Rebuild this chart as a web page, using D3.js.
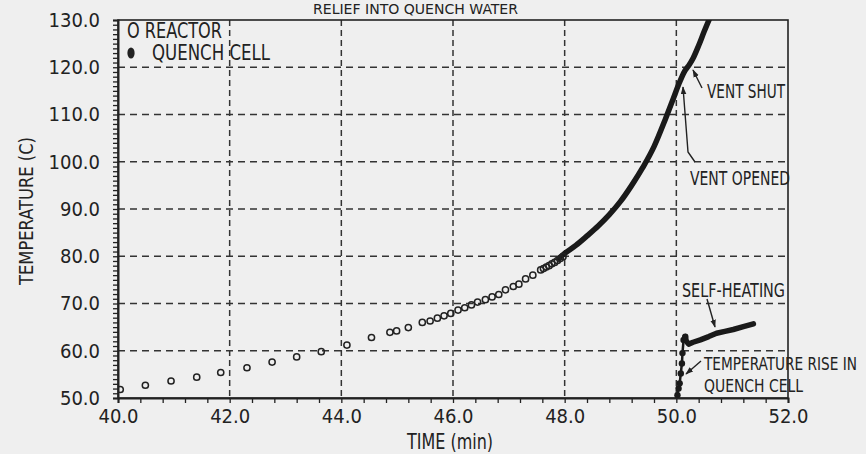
<!DOCTYPE html>
<html><head><meta charset="utf-8">
<script src="https://cdn.jsdelivr.net/npm/d3@7"></script>
<style>
body{margin:0;background:#efefef;}
svg{display:block;}
text{font-family:"Liberation Sans Narrow","Arial Narrow","DejaVu Sans Condensed",sans-serif;fill:#222;}
</style></head><body>
<svg id="c" width="866" height="454"></svg>
<script>
// ---- data ----
const xTicks = [40, 42, 44, 46, 48, 50, 52];
const yTicks = [50, 60, 70, 80, 90, 100, 110, 120, 130];
const title = "RELIEF INTO QUENCH WATER";
const xLabel = "TIME (min)";
const yLabel = "TEMPERATURE (C)";
const legendLabels = ["O REACTOR", "QUENCH CELL"];

// Reactor (open circles)
const reactorTime = [40.04,40.49,40.95,41.41,41.84,42.31,42.76,43.20,43.64,44.10,44.54,44.87,44.99,45.20,45.45,45.59,45.72,45.84,45.96,46.09,46.21,46.33,46.44,46.58,46.70,46.82,46.94,47.08,47.18,47.30,47.43,47.57,47.62,47.67,47.72,47.77,47.82,47.87,47.92,47.97];
const reactorTemp = [51.8,52.7,53.6,54.4,55.4,56.4,57.6,58.7,59.8,61.2,62.8,63.9,64.2,64.9,66.0,66.3,66.9,67.4,67.9,68.6,69.1,69.7,70.3,70.8,71.4,71.9,72.9,73.6,74.1,75.2,76.0,77.1,77.4,77.7,78.0,78.4,78.7,79.1,79.5,79.9];
// Reactor dense recording (merged into a thick trace)
const reactorCurveTime = [47.90,48.00,48.20,48.40,48.60,48.80,49.00,49.20,49.40,49.60,49.80,49.95,50.05,50.15,50.22,50.30,50.40,50.50,50.62];
const reactorCurveTemp = [79.6,80.6,82.3,84.3,86.4,88.8,91.6,95.0,98.8,103.2,108.9,113.5,116.6,119.2,120.3,121.9,124.6,127.6,131.0];
// Quench cell (filled dots)
const quenchRiseTime = [50.02,50.04,50.06,50.08,50.10,50.11,50.13,50.16];
const quenchRiseTemp = [50.6,52.0,53.1,55.2,57.3,59.5,62.3,63.0];
const quenchHeatTime = [50.16,50.18,50.22,50.30,50.43,50.58,50.72,50.87,51.02,51.20,51.38];
const quenchHeatTemp = [63.0,62.0,61.4,61.8,62.3,63.0,63.7,64.1,64.5,65.1,65.7];

// ---- layout ----
const W = 866, H = 454;
const m = {left:118, right:78, top:20, bottom:56};
const svg = d3.select("#c");
const ink = "#222";
const x = d3.scaleLinear().domain([40,52]).range([m.left, W-m.right]);
const y = d3.scaleLinear().domain([50,130]).range([H-m.bottom, m.top]);

svg.append("defs").append("marker")
  .attr("id","ah").attr("viewBox","0 -4 10 8").attr("refX",9).attr("refY",0)
  .attr("markerWidth",8).attr("markerHeight",7).attr("markerUnits","userSpaceOnUse").attr("orient","auto")
  .append("path").attr("d","M0,-3.5L10,0L0,3.5Z").attr("fill",ink);
svg.append("clipPath").attr("id","plot").append("rect")
  .attr("x",m.left).attr("y",m.top).attr("width",W-m.left-m.right).attr("height",H-m.top-m.bottom);

// grid
const g = svg.append("g");
g.selectAll(".hg").data(yTicks.slice(1,-1)).join("line")
  .attr("x1",m.left).attr("x2",W-m.right).attr("y1",d=>y(d)).attr("y2",d=>y(d))
  .attr("stroke","#333").attr("stroke-width",1.5).attr("stroke-dasharray","7,5");
g.selectAll(".vg").data(xTicks.slice(1,-1)).join("line")
  .attr("y1",m.top).attr("y2",H-m.bottom).attr("x1",d=>x(d)).attr("x2",d=>x(d))
  .attr("stroke","#333").attr("stroke-width",1.5).attr("stroke-dasharray","6,4");

// frame
svg.append("rect").attr("x",m.left).attr("y",m.top).attr("width",W-m.left-m.right).attr("height",H-m.top-m.bottom)
  .attr("fill","none").attr("stroke",ink).attr("stroke-width",1.6);

// axes: minor ticks
const minorX = d3.range(40,52.001,0.4);
const minorY = d3.range(50,130.001,1);
const ax = svg.append("g").attr("transform",`translate(0,${H-m.bottom})`)
  .call(d3.axisBottom(x).tickValues(minorX).tickSize(5).tickFormat(""));
const ay = svg.append("g").attr("transform",`translate(${m.left},0)`)
  .call(d3.axisLeft(y).tickValues(minorY).tickSize(5).tickFormat(""));
[ax,ay].forEach(a=>{a.select(".domain").attr("stroke",ink).attr("stroke-width",2);a.selectAll("line").attr("stroke",ink).attr("stroke-width",1.3);});
// major labels
const lx = svg.append("g").attr("transform",`translate(0,${H-m.bottom})`)
  .call(d3.axisBottom(x).tickValues(xTicks).tickSize(0).tickPadding(11).tickFormat(d3.format(".1f")));
const ly = svg.append("g").attr("transform",`translate(${m.left},0)`)
  .call(d3.axisLeft(y).tickValues(yTicks).tickSize(0).tickPadding(18).tickFormat(d3.format(".1f")));
[lx,ly].forEach(a=>{a.select(".domain").remove();a.selectAll("text").attr("font-size",20).attr("fill",ink).attr("font-family",null);});

// text helper
function label(t,px,py,len,fs,anchor){
  const e = svg.append("text").attr("x",px).attr("y",py).attr("font-size",fs).text(t);
  if(anchor) e.attr("text-anchor",anchor);
  if(len) e.attr("textLength",len).attr("lengthAdjust","spacingAndGlyphs");
  return e;
}
label(title,313,14,205,14);
label(xLabel,407,449,86,21);
svg.append("text").attr("transform","translate(33,211) rotate(-90)").attr("text-anchor","middle")
  .attr("font-size",20).attr("textLength",148).attr("lengthAdjust","spacingAndGlyphs").text(yLabel);

// legend
label(legendLabels[0],127,38,95,21);
svg.append("ellipse").attr("cx",131).attr("cy",53).attr("rx",3.6).attr("ry",5.5).attr("fill",ink);
label(legendLabels[1],152,60,118,21);

// data
const pc = svg.append("g").attr("clip-path","url(#plot)");
const line = d3.line().x(d=>x(d[0])).y(d=>y(d[1])).curve(d3.curveMonotoneX);
pc.append("path").datum(d3.zip(reactorCurveTime,reactorCurveTemp)).attr("d",line)
  .attr("fill","none").attr("stroke","#1a1a1a").attr("stroke-width",5.5).attr("stroke-linecap","round");
pc.selectAll(".rc").data(d3.zip(reactorTime,reactorTemp)).join("circle")
  .attr("cx",d=>x(d[0])).attr("cy",d=>y(d[1])).attr("r",3.1)
  .attr("fill","none").attr("stroke","#222").attr("stroke-width",1.5);

const lineL = d3.line().x(d=>x(d[0])).y(d=>y(d[1]));
pc.append("path").datum(d3.zip(quenchRiseTime,quenchRiseTemp)).attr("d",lineL)
  .attr("fill","none").attr("stroke","#1a1a1a").attr("stroke-width",2.5);
pc.selectAll(".qc").data(d3.zip(quenchRiseTime,quenchRiseTemp)).join("circle")
  .attr("cx",d=>x(d[0])).attr("cy",d=>y(d[1])).attr("r",3.2).attr("fill","#1a1a1a");
pc.append("path").datum(d3.zip(quenchHeatTime,quenchHeatTemp)).attr("d",lineL)
  .attr("fill","none").attr("stroke","#1a1a1a").attr("stroke-width",5.5).attr("stroke-linecap","round").attr("stroke-linejoin","round");

// annotations
function arrow(pts){
  svg.append("path").attr("d",d3.line()(pts)).attr("fill","none").attr("stroke",ink)
    .attr("stroke-width",1.4).attr("marker-end","url(#ah)");
}
label("VENT SHUT",707,98,78,20);
arrow([[702,88],[693,70]]);
label("VENT OPENED",690,185,100,20);
arrow([[695,162],[688,152],[683,87]]);
label("SELF-HEATING",682,297,103,19);
arrow([[707,299],[715,327]]);
label("TEMPERATURE RISE IN",704,370,153,17.5);
label("QUENCH CELL",704,392,99,17.5);
arrow([[701,361],[686,374]]);
</script></body></html>
